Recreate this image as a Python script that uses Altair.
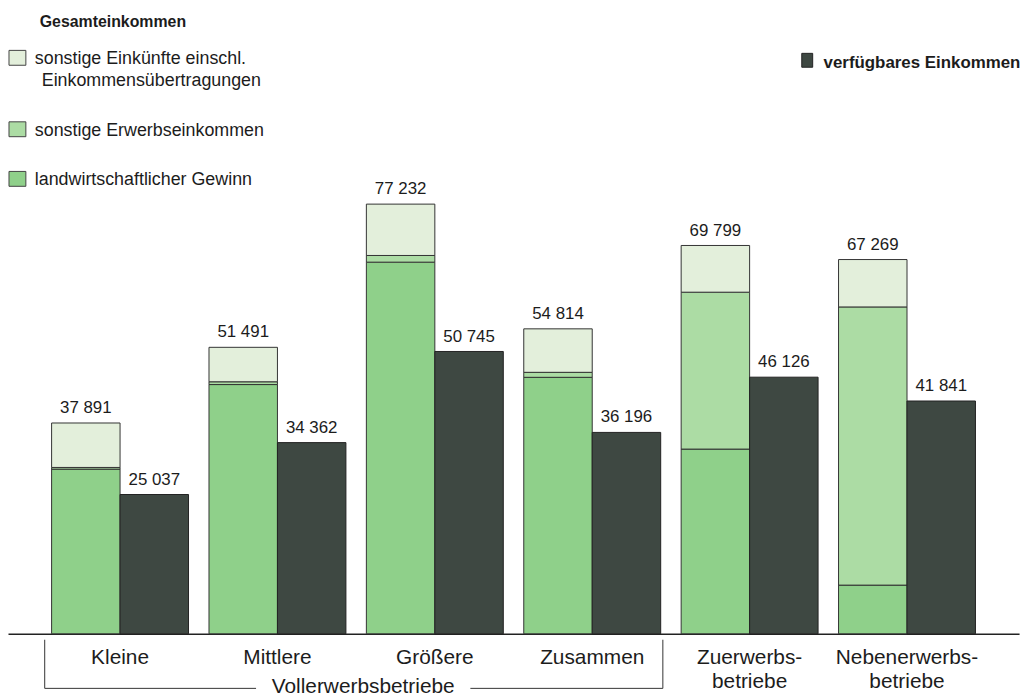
import altair as alt
import pandas as pd

# ---- data ----
groups = ["Kleine", "Mittlere", "Größere", "Zusammen", "Zuerwerbs-|betriebe", "Nebenerwerbs-|betriebe"]
components = ["landwirtschaftlicher Gewinn", "sonstige Erwerbseinkommen",
              "sonstige Einkünfte einschl. Einkommensübertragungen"]
landw_gewinn = [29600, 44800, 66800, 46100, 33200, 8750]
sonst_erwerb = [300, 500, 1200, 900, 28200, 50000]
sonst_einkuenfte = [7991, 6191, 9232, 7814, 8399, 8519]
gesamt = [37891, 51491, 77232, 54814, 69799, 67269]
verfuegbar = [25037, 34362, 50745, 36196, 46126, 41841]

FONT = "Liberation Sans"
TXT = "#1c1c1c"
comp_colors = ["#8fd08a", "#acdca4", "#e3efdb"]
DARK = "#3e4842"

def fmt(v):
    return f"{v:,}".replace(",", " ")

rows = []
for i, g in enumerate(groups):
    for j, (c, vals) in enumerate(zip(components, [landw_gewinn, sonst_erwerb, sonst_einkuenfte])):
        rows.append({"group": g, "kind": "G", "component": c, "ord": j, "value": vals[i]})
stack_df = pd.DataFrame(rows)

dark_df = pd.DataFrame({"group": groups, "kind": "V", "value": verfuegbar,
                        "label": [fmt(v) for v in verfuegbar]})
tot_df = pd.DataFrame({"group": groups, "kind": "G", "value": gesamt,
                       "label": [fmt(v) for v in gesamt]})

x_enc = alt.X("group:N", sort=groups,
              scale=alt.Scale(domain=groups, paddingInner=0.13, paddingOuter=0.277),
              axis=alt.Axis(title=None, labelExpr="split(datum.label, '|')", ticks=False,
                            labelAngle=0, labelFont=FONT, labelFontSize=21, labelColor=TXT,
                            labelPadding=13, labelLineHeight=24, domainColor="#222",
                            domainWidth=1.5, grid=False))
xo_enc = alt.XOffset("kind:N", scale=alt.Scale(domain=["G", "V"], paddingInner=0, paddingOuter=0))
y_scale = alt.Scale(domain=[0, 112000], nice=False)

stacked = alt.Chart(stack_df).mark_bar(stroke="#333", strokeWidth=1).encode(
    x=x_enc, xOffset=xo_enc,
    y=alt.Y("value:Q", stack="zero", scale=y_scale, axis=None),
    color=alt.Color("component:N", scale=alt.Scale(domain=components, range=comp_colors), legend=None),
    order=alt.Order("ord:Q"),
)

dark = alt.Chart(dark_df).mark_bar(color=DARK, stroke="#222", strokeWidth=1).encode(
    x=x_enc, xOffset=xo_enc, y=alt.Y("value:Q", scale=y_scale, axis=None),
)

lab_style = dict(font=FONT, fontSize=17, color=TXT, align="center", baseline="alphabetic", dy=-10)
tot_lab = alt.Chart(tot_df).mark_text(**lab_style).encode(
    x=x_enc, xOffset=xo_enc, y=alt.Y("value:Q", scale=y_scale), text="label:N")
dark_lab = alt.Chart(dark_df).mark_text(**lab_style).encode(
    x=x_enc, xOffset=xo_enc, y=alt.Y("value:Q", scale=y_scale), text="label:N")

one = pd.DataFrame({"a": [0]})

def rect(x1, x2, y1, y2, fill, stroke="#444"):
    return alt.Chart(one).mark_rect(fill=fill, stroke=stroke, strokeWidth=1).encode(
        x=alt.value(x1), x2=alt.value(x2), y=alt.value(y1), y2=alt.value(y2))

def text(x, y, s, size=18, bold=False, align="left", baseline="alphabetic"):
    return alt.Chart(one).mark_text(font=FONT, fontSize=size, fontWeight="bold" if bold else "normal",
                                    color=TXT, align=align, baseline=baseline).encode(
        x=alt.value(x), y=alt.value(y), text=alt.value(s))

def rule(x1, x2, y1, y2):
    return alt.Chart(one).mark_rule(color="#333", strokeWidth=1).encode(
        x=alt.value(x1), x2=alt.value(x2), y=alt.value(y1), y2=alt.value(y2))

legend = [
    text(32, 16, "Gesamteinkommen", size=16, bold=True),
    rect(1, 18, 40, 55, comp_colors[2]),
    text(27, 54, "sonstige Einkünfte einschl."),
    text(34, 76, "Einkommensübertragungen"),
    rect(1, 18, 112, 127, comp_colors[1]),
    text(27, 126, "sonstige Erwerbseinkommen"),
    rect(1, 18, 162, 177, comp_colors[0]),
    text(27, 176, "landwirtschaftlicher Gewinn"),
    rect(800, 811, 43, 57, DARK, stroke="#222"),
    text(822, 58, "verfügbares Einkommen", size=17, bold=True),
]

bracket = [
    rule(37, 37, 634, 683),
    rule(37, 250, 683, 683),
    rule(466, 660, 683, 683),
    rule(660, 660, 634, 683),
    text(358, 688, "Vollerwerbsbetriebe", size=21, align="center"),
]

chart = alt.layer(stacked, dark, tot_lab, dark_lab, *legend, *bracket).properties(
    width=1019, height=628,
    padding={"left": 0, "top": 0, "right": 8, "bottom": 62},
    autosize=alt.AutoSizeParams(type="none"),
    background="white",
).configure_view(stroke=None)

chart.save("out.html", embed_options={"renderer": "svg", "actions": False})
